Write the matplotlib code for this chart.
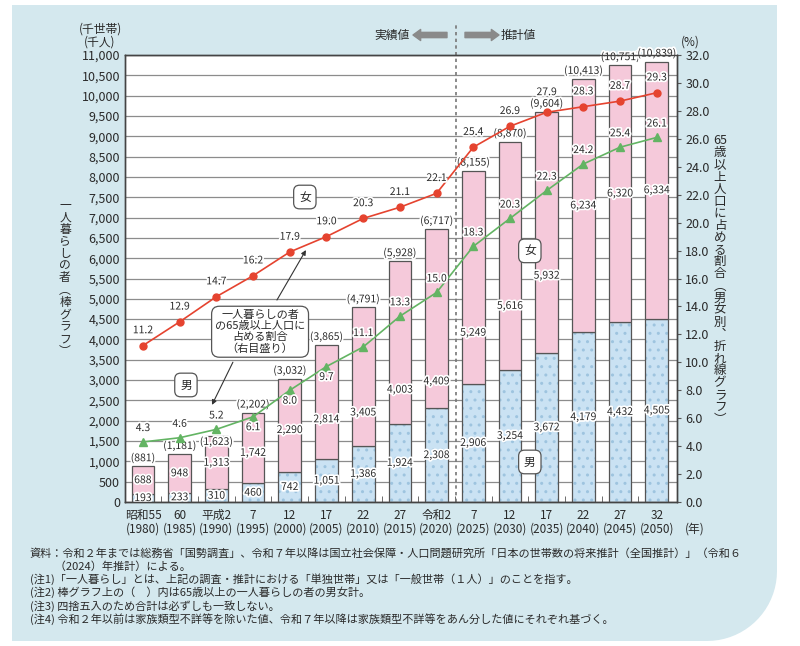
import matplotlib
matplotlib.use('Agg')
import matplotlib.pyplot as plt
import matplotlib.patheffects as pe
from matplotlib.patches import PathPatch, FancyArrowPatch
from matplotlib.path import Path
import numpy as np

plt.rcParams['font.family'] = ['Noto Sans CJK JP', 'DejaVu Sans']

# data
era_labels = ['昭和55', '60', '平成2', '7', '12', '17', '22', '27',
              '令和2', '7', '12', '17', '22', '27', '32']
years = [1980, 1985, 1990, 1995, 2000, 2005, 2010, 2015,
         2020, 2025, 2030, 2035, 2040, 2045, 2050]
male = [193, 233, 310, 460, 742, 1051, 1386, 1924,
        2308, 2906, 3254, 3672, 4179, 4432, 4505]
female = [688, 948, 1313, 1742, 2290, 2814, 3405, 4003,
          4409, 5249, 5616, 5932, 6234, 6320, 6334]
total = [881, 1181, 1623, 2202, 3032, 3865, 4791, 5928,
         6717, 8155, 8870, 9604, 10413, 10751, 10839]
female_ratio = [11.2, 12.9, 14.7, 16.2, 17.9, 19.0, 20.3, 21.1,
                22.1, 25.4, 26.9, 27.9, 28.3, 28.7, 29.3]
male_ratio = [4.3, 4.6, 5.2, 6.1, 8.0, 9.7, 11.1, 13.3,
              15.0, 18.3, 20.3, 22.3, 24.2, 25.4, 26.1]

notes = [
    '資料：令和２年までは総務省「国勢調査」、令和７年以降は国立社会保障・人口問題研究所「日本の世帯数の将来推計（全国推計）」（令和６',
    '　　 （2024）年推計）による。',
    '(注1)「一人暮らし」とは、上記の調査・推計における「単独世帯」又は「一般世帯（１人）」のことを指す。',
    '(注2) 棒グラフ上の（　）内は65歳以上の一人暮らしの者の男女計。',
    '(注3) 四捨五入のため合計は必ずしも一致しない。',
    '(注4) 令和２年以前は家族類型不詳等を除いた値、令和７年以降は家族類型不詳等をあん分した値にそれぞれ基づく。',
]

W, H = 800, 646
PINK = '#f5c9da'
BLUE = '#cae2f3'
RED = '#e5432f'
GREEN = '#63b463'
EDGE = '#555555'
TXT = '#2a2a2a'


def fx(px):
    return px / W


def fy(py):
    return 1 - py / H


fig = plt.figure(figsize=(W / 100, H / 100), dpi=100)

# light blue panel with a rounded bottom-right corner
x0, x1, y0, y1, r = 12, 777, 5, 641, 70
verts = [(x0, y0), (x1, y0), (x1, y1 - r)]
for t in np.linspace(0, np.pi / 2, 20):
    verts.append((x1 - r + r * np.cos(t), y1 - r + r * np.sin(t)))
verts += [(x0, y1), (x0, y0)]
verts = [(fx(a), fy(b)) for a, b in verts]
panel = PathPatch(Path(verts), transform=fig.transFigure, facecolor='#d4e8ee',
                  edgecolor='none', zorder=0)
fig.add_artist(panel)

ax = fig.add_axes([fx(125), fy(502), (677 - 125) / W, (502 - 55) / H])
ax.set_facecolor('white')
ax.set_xlim(-0.49, 14.55)
ax.set_ylim(0, 11000)
ax.yaxis.grid(True, color='#8c8c8c', lw=0.9)
ax.set_axisbelow(True)

x = np.arange(len(years))
bw = 0.62
halo = [pe.withStroke(linewidth=2.5, foreground='white')]

# male bars (dotted) and female bars
ax.bar(x, male, bw, color=BLUE, edgecolor='#9ec4df', hatch='..', linewidth=0, zorder=2)
ax.bar(x, male, bw, fill=False, edgecolor=EDGE, linewidth=0.9, zorder=3)
ax.bar(x, female, bw, bottom=male, color=PINK, edgecolor=EDGE, linewidth=0.9, zorder=3)

# where the female value sits inside its segment (kept clear of the green line)
fem_pos = [0.5, 0.5, 0.5, 0.43, 0.45, 0.35, 0.24, 0.21, 0.15, 0.24, 0.28, 0.32, 0.5, 0.5, 0.5]
for i in x:
    ax.text(i, male[i] / 2, f'{male[i]:,}', ha='center', va='center', fontsize=7.5,
            color=TXT, path_effects=halo, zorder=5)
    ax.text(i, male[i] + female[i] * fem_pos[i], f'{female[i]:,}', ha='center', va='center',
            fontsize=7.5, color=TXT, path_effects=halo, zorder=5)
    off = -4 if i == 2 else 6
    ax.annotate(f'({total[i]:,})', (i, total[i]), xytext=(0, off), textcoords='offset points',
                ha='center', va='center', fontsize=7.5, color=TXT, path_effects=halo, zorder=5)

# divider between actual and projected values
ax.plot([8.53, 8.53], [0, 11740], ls=(0, (2, 2)), color='#777777', lw=1.2,
        clip_on=False, zorder=1.5)

ax.set_yticks(range(0, 11001, 500))
ax.set_yticklabels([f'{v:,}' for v in range(0, 11001, 500)], fontsize=9, color=TXT)
ax.set_xticks(x)
ax.set_xticklabels([f'{e}\n({y})' for e, y in zip(era_labels, years)], fontsize=8.5,
                   color=TXT, linespacing=1.05)
ax.tick_params(axis='both', which='major', length=0)
ax.tick_params(axis='x', pad=5)
ax.set_xticks(x[:-1] + 0.5, minor=True)
ax.tick_params(axis='x', which='minor', direction='in', length=4, color=EDGE)
for s in ax.spines.values():
    s.set_color('#444444')
    s.set_linewidth(1)

ax2 = ax.twinx()
ax2.set_ylim(0, 32)
ax2.plot(x, female_ratio, color=RED, lw=1.2, marker='o', ms=5, zorder=4)
ax2.plot(x, male_ratio, color=GREEN, lw=1.2, marker='^', ms=5.5, zorder=4)
for i in x:
    dy = 14.5 if i == 11 else 11
    ax2.annotate(f'{female_ratio[i]:.1f}', (i, female_ratio[i]), xytext=(0, dy),
                 textcoords='offset points', ha='center', va='center', fontsize=7.5,
                 color=TXT, path_effects=halo, zorder=6)
    dy = -7.5 if i in (3, 4, 5) else 10
    ax2.annotate(f'{male_ratio[i]:.1f}', (i, male_ratio[i]), xytext=(0, dy),
                 textcoords='offset points', ha='center', va='center', fontsize=7.5,
                 color=TXT, path_effects=halo, zorder=6)
ax2.set_yticks(np.arange(0, 32.1, 2))
ax2.set_yticklabels([f'{v:.1f}' for v in np.arange(0, 32.1, 2)], fontsize=9, color=TXT)
ax2.tick_params(axis='y', direction='out', length=3, color=EDGE, pad=3)
for s in ax2.spines.values():
    s.set_color('#444444')
    s.set_linewidth(1)

# series labels and callout
box = dict(boxstyle='round,pad=0.45,rounding_size=0.5', fc='white', ec=EDGE, lw=0.9)
for tx, ty, s in [(4.41, 7505, '女'), (1.17, 2880, '男'), (10.54, 6180, '女'), (10.54, 985, '男')]:
    ax.text(tx, ty, s, ha='center', va='center', fontsize=8.5, color=TXT, bbox=box, zorder=7)
ax.text(3.19, 4190, '一人暮らしの者\nの65歳以上人口に\n占める割合\n（右目盛り）', ha='center',
        va='center', fontsize=8, color=TXT, linespacing=1.15, zorder=7,
        bbox=dict(boxstyle='round,pad=0.3,rounding_size=0.7', fc='white', ec=EDGE, lw=0.9))
arrow = dict(arrowstyle='-|>', color='#333333', lw=0.8, mutation_scale=7, shrinkA=0, shrinkB=0)
ax.annotate('', xy=(4.44, 6200), xytext=(3.65, 4970), arrowprops=arrow, zorder=7)
ax.annotate('', xy=(1.88, 2390), xytext=(2.45, 3440), arrowprops=arrow, zorder=7)

# axis titles
fig.text(fx(100), fy(29), '(千世帯)', ha='center', va='center', fontsize=8.5, color=TXT)
fig.text(fx(100), fy(42), '(千人)', ha='center', va='center', fontsize=8.5, color=TXT)
fig.text(fx(690), fy(42), '(%)', ha='center', va='center', fontsize=8.5, color=TXT)
fig.text(fx(695), fy(529), '(年)', ha='center', va='center', fontsize=8.5, color=TXT)

# vertical axis titles, one character per line
left_label = ['一', '人', '暮', 'ら', 'し', 'の', '者', '︵', '棒', 'グ', 'ラ', 'フ', '︶']
fig.text(fx(65), fy(278), '\n'.join(left_label), ha='center', va='center', fontsize=8.5,
         color=TXT, linespacing=0.92, multialignment='center')
right_label = ['65', '歳', '以', '上', '人', '口', 'に', '占', 'め', 'る', '割', '合', '︵',
               '男', '女', '別', '︑', '折', 'れ', '線', 'グ', 'ラ', 'フ', '︶']
fig.text(fx(720), fy(280), '\n'.join(right_label), ha='center', va='center', fontsize=9,
         color=TXT, linespacing=0.91, multialignment='center')

# actual / projected header
fig.text(fx(392), fy(35), '実績値', ha='center', va='center', fontsize=8.5, color=TXT)
fig.text(fx(518), fy(35), '推計値', ha='center', va='center', fontsize=8.5, color=TXT)
hdr = 'simple,head_length=0.55,head_width=0.8,tail_width=0.38'
for a, b in [(447, 413), (465, 499)]:
    fig.add_artist(FancyArrowPatch((fx(a), fy(35)), (fx(b), fy(35)), transform=fig.transFigure,
                                   arrowstyle=hdr, mutation_scale=10, color='#8a8a8a',
                                   shrinkA=0, shrinkB=0))

for k, line in enumerate(notes):
    fig.text(fx(30), fy(553 + 13.2 * k), line, ha='left', va='center', fontsize=8, color=TXT)

fig.savefig('out.png', dpi=100)
